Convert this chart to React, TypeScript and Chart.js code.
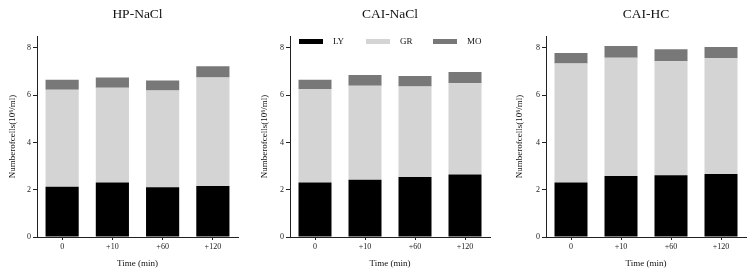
import React, { useEffect, useRef } from "react";
import { Chart, registerables } from "chart.js";
Chart.register(...registerables);

const categories = ["0", "+10", "+60", "+120"];
const seriesNames = ["LY", "GR", "MO"];
const seriesColors = ["#000000", "#d4d4d4", "#787878"];
const panelTitles = ["HP-NaCl", "CAI-NaCl", "CAI-HC"];
const yTicks = [0, 2, 4, 6, 8];
const yMax = 8.5;
const xAxisTitle = "Time (min)";
const yAxisTitle = "Numberofcells(10\u2076/ml)";

// segment heights of the stacked bars
const hpLY = [2.13, 2.3, 2.1, 2.16];
const hpGR = [4.1, 4.01, 4.09, 4.59];
const hpMO = [0.42, 0.44, 0.43, 0.47];

const caiNaclLY = [2.3, 2.42, 2.54, 2.64];
const caiNaclGR = [3.96, 3.98, 3.82, 3.86];
const caiNaclMO = [0.39, 0.45, 0.45, 0.48];

const caiHcLY = [2.3, 2.58, 2.61, 2.66];
const caiHcGR = [5.04, 5.0, 4.82, 4.9];
const caiHcMO = [0.44, 0.5, 0.51, 0.48];

const FONT = "'Liberation Serif', 'Times New Roman', serif";
const H = 276;

type PanelProps = {
  title: string;
  series: number[][];
  left: number;
  width: number;
  yWidth: number;
  padRight: number;
  yTitleCenter: number;
  legend?: boolean;
};

function Panel({ title, series, left, width, yWidth, padRight, yTitleCenter, legend }: PanelProps) {
  const ref = useRef<HTMLCanvasElement | null>(null);
  useEffect(() => {
    if (!ref.current) return;
    const chart = new Chart(ref.current, {
      type: "bar",
      data: {
        labels: categories,
        datasets: series.map((vals, i) => ({
          label: seriesNames[i],
          data: vals,
          backgroundColor: seriesColors[i],
          borderWidth: 0,
          categoryPercentage: 1,
          barPercentage: 0.66,
        })),
      },
      options: {
        responsive: false,
        maintainAspectRatio: false,
        animation: false,
        layout: { padding: { left: 0, right: padRight, top: 0, bottom: 0 } },
        plugins: {
          legend: { display: false },
          tooltip: { enabled: false },
          title: {
            display: true,
            text: title,
            fullSize: false,
            color: "#111",
            font: { family: FONT, size: 13.5, weight: "normal", lineHeight: 1.2 },
            padding: { top: 6, bottom: 13.8 },
          },
        },
        scales: {
          x: {
            stacked: true,
            afterFit: (s: any) => {
              s.height = 39;
            },
            ticks: { font: { family: FONT, size: 8 }, color: "#222", padding: 2, maxRotation: 0 },
            grid: { drawOnChartArea: false, drawTicks: true, tickLength: 3, offset: false, color: "#222" },
            border: { display: true, color: "#222", width: 1 },
            title: {
              display: true,
              text: xAxisTitle,
              color: "#111",
              font: { family: FONT, size: 9, lineHeight: 1.2 },
              padding: { top: 0, bottom: 6.6 },
            },
          },
          y: {
            stacked: true,
            min: 0,
            max: yMax,
            afterBuildTicks: (s: any) => {
              s.ticks = yTicks.map((v) => ({ value: v }));
            },
            afterFit: (s: any) => {
              s.width = yWidth;
            },
            ticks: { font: { family: FONT, size: 8 }, color: "#222", padding: 2, stepSize: 2 },
            grid: { drawOnChartArea: false, drawTicks: true, tickLength: 4, color: "#222" },
            border: { display: true, color: "#222", width: 1 },
            title: {
              display: true,
              text: yAxisTitle,
              color: "#111",
              font: { family: FONT, size: 9, lineHeight: 1.2 },
              padding: { top: yTitleCenter - 5.4, bottom: 0 },
            },
          },
        },
      } as any,
    });
    return () => chart.destroy();
  }, []);
  return (
    <div style={{ position: "absolute", left, top: 0, width, height: H }}>
      <canvas ref={ref} width={width} height={H} style={{ display: "block" }} />
      {legend &&
        seriesNames.map((n, i) => (
          <div key={n}>
            <div
              style={{
                position: "absolute",
                left: 49 + i * 67,
                top: 39,
                width: 24,
                height: 5,
                background: seriesColors[i],
              }}
            />
            <div
              style={{
                position: "absolute",
                left: 83 + i * 67,
                top: 35,
                fontFamily: FONT,
                fontSize: 9,
                lineHeight: "12px",
                color: "#111",
              }}
            >
              {n}
            </div>
          </div>
        ))}
    </div>
  );
}

export default function App() {
  return (
    <div style={{ position: "absolute", left: 0, top: 0, width: 754, height: H, background: "#fff" }}>
      <Panel title={panelTitles[0]} series={[hpLY, hpGR, hpMO]} left={0} width={250} yWidth={37} padRight={12} yTitleCenter={13} />
      <Panel
        title={panelTitles[1]}
        series={[caiNaclLY, caiNaclGR, caiNaclMO]}
        left={250}
        width={250}
        yWidth={40}
        padRight={10}
        yTitleCenter={15}
        legend
      />
      <Panel title={panelTitles[2]} series={[caiHcLY, caiHcGR, caiHcMO]} left={500} width={254} yWidth={46} padRight={8} yTitleCenter={20} />
    </div>
  );
}
